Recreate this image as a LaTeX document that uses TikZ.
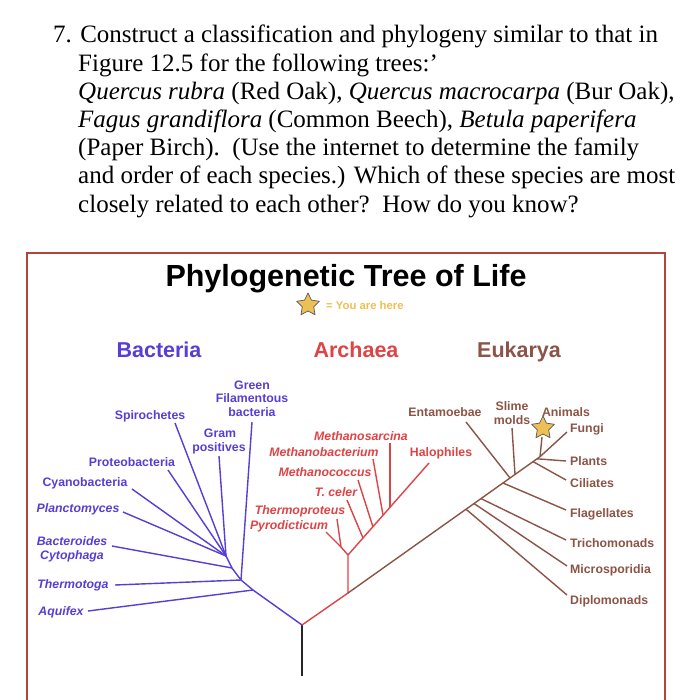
\documentclass[tikz,border=0pt]{standalone}
\usepackage{fontspec}
\setmainfont{Liberation Serif}
\setsansfont{Liberation Sans}
\usetikzlibrary{shapes.geometric}
\definecolor{bac}{RGB}{88,62,212}
\definecolor{arc}{RGB}{222,68,70}
\definecolor{euk}{RGB}{140,84,70}
\definecolor{gold}{RGB}{236,192,84}
\definecolor{framec}{RGB}{178,68,58}
\begin{document}
\begin{tikzpicture}[x=1pt,y=-1pt,
  qline/.style={anchor=base west, inner sep=0, font=\fontsize{25}{28}\selectfont},
  lab/.style={inner sep=0, font=\sffamily\bfseries\fontsize{12.3}{14}\selectfont, text height=9, text depth=2.6},
  blab/.style={lab, text=bac},
  alab/.style={lab, text=arc, font=\sffamily\bfseries\itshape\fontsize{12.3}{14}\selectfont},
  elab/.style={lab, text=euk},
  dom/.style={anchor=base, inner sep=0, font=\sffamily\bfseries\fontsize{21.5}{24}\selectfont},
  bedge/.style={draw=bac, line width=1.4},
  aedge/.style={draw=arc, line width=1.4},
  eedge/.style={draw=euk, line width=1.4},
  ystar/.style={star, star points=5, star point ratio=2.0, minimum size=24, inner sep=0,
    fill=gold, draw=black!65, line width=0.7, line join=round}
]
\useasboundingbox (0,0) rectangle (692,700);
\fill[white] (0,0) rectangle (692,700);

% question text
\node[qline] (q1) at (53,43) {7. Construct a classification and phylogeny similar to that in};
\node[qline] (q2) at (78,71.2) {Figure 12.5 for the following trees:’};
\node[qline] (q3) at (78,99.4) {\textit{Quercus rubra} (Red Oak), \textit{Quercus macrocarpa} (Bur Oak),};
\node[qline] (q4) at (78,127.6) {\textit{Fagus grandiflora} (Common Beech), \textit{Betula paperifera}};
\node[qline] (q5) at (78,155.8) {(Paper Birch).\ \ (Use the internet to determine the family};
\node[qline] (q6) at (78,184) {and order of each species.) Which of these species are most};
\node[qline] (q7) at (78,212.2) {closely related to each other?\ \ How do you know?};

% frame
\draw[framec, line width=1.6] (27,253) rectangle (665,720);

% title and legend
\node[anchor=base, inner sep=0, font=\sffamily\bfseries\fontsize{30.5}{34}\selectfont] (title) at (346,286) {Phylogenetic Tree of Life};
\node[ystar] (legendstar) at (308,305) {};
\node[anchor=west, inner sep=0, text=gold, font=\sffamily\bfseries\fontsize{11.3}{13}\selectfont] (legend) at (326,305) {= You are here};

% domains
\node[dom, text=bac] (bacteria) at (159,357) {Bacteria};
\node[dom, text=arc] (archaea) at (356,357) {Archaea};
\node[dom, text=euk] (eukarya) at (519,357) {Eukarya};

% ---- coordinates
\coordinate (R) at (302,625);
\coordinate (Rb) at (302,676);
% bacteria
\coordinate (B4) at (253,590);
\coordinate (B3) at (241,580);
\coordinate (B2) at (232,568);
\coordinate (B1) at (226,556);
\coordinate (aqE) at (88,611);
\coordinate (thE) at (115,585);
\coordinate (gfE) at (252,422);
\coordinate (bcE) at (112,546);
\coordinate (plE) at (123,512);
\coordinate (cyE) at (132,489);
\coordinate (prE) at (168,470);
\coordinate (spE) at (175,423);
\coordinate (gpE) at (219,456);
% archaea
\coordinate (A0) at (348,593);
\coordinate (A1) at (348,555);
\coordinate (A2) at (341,547);
\coordinate (pyE) at (326,532);
\coordinate (tpE) at (337,519);
\coordinate (H1) at (363,538);
\coordinate (H2) at (373,527);
\coordinate (H3) at (383,515);
\coordinate (H4) at (390,507);
\coordinate (haE) at (429,463);
\coordinate (tcE) at (347,500);
\coordinate (mcE) at (358,480);
\coordinate (mbE) at (373,459);
\coordinate (msE) at (390,443);
% eukarya
\coordinate (Ed) at (466,509.2);
\coordinate (Em) at (474,503.5);
\coordinate (Et) at (481,498.6);
\coordinate (Ef) at (503,483);
\coordinate (Een) at (510,478);
\coordinate (Esl) at (515,474.4);
\coordinate (Ec) at (533,461.6);
\coordinate (Ep) at (537,458.8);
\coordinate (Etop) at (540,456.7);
\coordinate (dipE) at (567,595);
\coordinate (micE) at (567,566);
\coordinate (triE) at (566,540);
\coordinate (flaE) at (566,510);
\coordinate (entE) at (466,422);
\coordinate (slE) at (512,428);
\coordinate (cilE) at (566,480);
\coordinate (plaE) at (566,461);
\coordinate (funE) at (567,432);
\coordinate (aniE) at (542,437);

% ---- edges
\draw[black!85, line width=1.6] (R) -- (Rb);
\draw[bedge] (R) -- (B4) -- (B3) -- (B2) -- (B1);
\draw[bedge] (aqE) -- (B4);
\draw[bedge] (thE) -- (B3);
\draw[bedge] (gfE) -- (B3);
\draw[bedge] (bcE) -- (B2);
\draw[bedge] (plE) -- (B1);
\draw[bedge] (cyE) -- (B1);
\draw[bedge] (prE) -- (B1);
\draw[bedge] (spE) -- (B1);
\draw[bedge] (gpE) -- (B1);

\draw[aedge] (R) -- (A0) -- (A1) -- (haE);
\draw[aedge] (A1) -- (A2);
\draw[aedge] (pyE) -- (A2);
\draw[aedge] (tpE) -- (A2);
\draw[aedge] (tcE) -- (H1);
\draw[aedge] (mcE) -- (H2);
\draw[aedge] (mbE) -- (H3);
\draw[aedge] (msE) -- (H4);

\draw[eedge] (A0) -- (Etop);
\draw[eedge] (Ed) -- (dipE);
\draw[eedge] (Em) -- (micE);
\draw[eedge] (Et) -- (triE);
\draw[eedge] (Ef) -- (flaE);
\draw[eedge] (Een) -- (entE);
\draw[eedge] (Esl) -- (slE);
\draw[eedge] (Ec) -- (cilE);
\draw[eedge] (Ep) -- (plaE);
\draw[eedge] (Etop) -- (funE);
\draw[eedge] (Etop) -- (aniE);

% ---- bacteria labels
\node[blab] (green) at (252,386) {Green};
\node[blab] (filam) at (252,399.5) {Filamentous};
\node[blab] (gfbac) at (252,413) {bacteria};
\node[blab] (spiro) at (150,416) {Spirochetes};
\node[blab] (gram) at (220,434) {Gram};
\node[blab] (posit) at (219,448) {positives};
\node[blab] (proteo) at (132,463) {Proteobacteria};
\node[blab] (cyano) at (85,483) {Cyanobacteria};
\node[blab, font=\sffamily\bfseries\itshape\fontsize{12.3}{14}\selectfont] (planc) at (78,509) {Planctomyces};
\node[blab, font=\sffamily\bfseries\itshape\fontsize{12.3}{14}\selectfont] (bacter) at (72,542) {Bacteroides};
\node[blab, font=\sffamily\bfseries\itshape\fontsize{12.3}{14}\selectfont] (cytoph) at (72,556) {Cytophaga};
\node[blab, font=\sffamily\bfseries\itshape\fontsize{12.3}{14}\selectfont] (thermot) at (73,585) {Thermotoga};
\node[blab, font=\sffamily\bfseries\itshape\fontsize{12.3}{14}\selectfont] (aquif) at (61,612) {Aquifex};

% ---- archaea labels
\node[alab] (msarc) at (361,437) {Methanosarcina};
\node[alab] (mbact) at (324,453) {Methanobacterium};
\node[alab] (mcocc) at (325,473) {Methanococcus};
\node[alab] (tceler) at (336,493) {T. celer};
\node[alab] (thprot) at (300,511) {Thermoproteus};
\node[alab] (pyrod) at (289,526) {Pyrodicticum};
\node[lab, text=arc] (halo) at (441,453) {Halophiles};

% ---- eukarya labels
\node[elab] (entam) at (445,413) {Entamoebae};
\node[elab] (slime) at (512,407) {Slime};
\node[elab] (molds) at (512,421) {molds};
\node[elab] (anim) at (566,413) {Animals};
\node[elab, anchor=west] (fungi) at (570,429) {Fungi};
\node[elab, anchor=west] (plants) at (570,462) {Plants};
\node[elab, anchor=west] (cili) at (570,484) {Ciliates};
\node[elab, anchor=west] (flag) at (570,514) {Flagellates};
\node[elab, anchor=west] (trich) at (570,544) {Trichomonads};
\node[elab, anchor=west] (micro) at (570,570) {Microsporidia};
\node[elab, anchor=west] (diplo) at (570,601) {Diplomonads};

\node[ystar] (anistar) at (543,428) {};
\end{tikzpicture}
\end{document}
